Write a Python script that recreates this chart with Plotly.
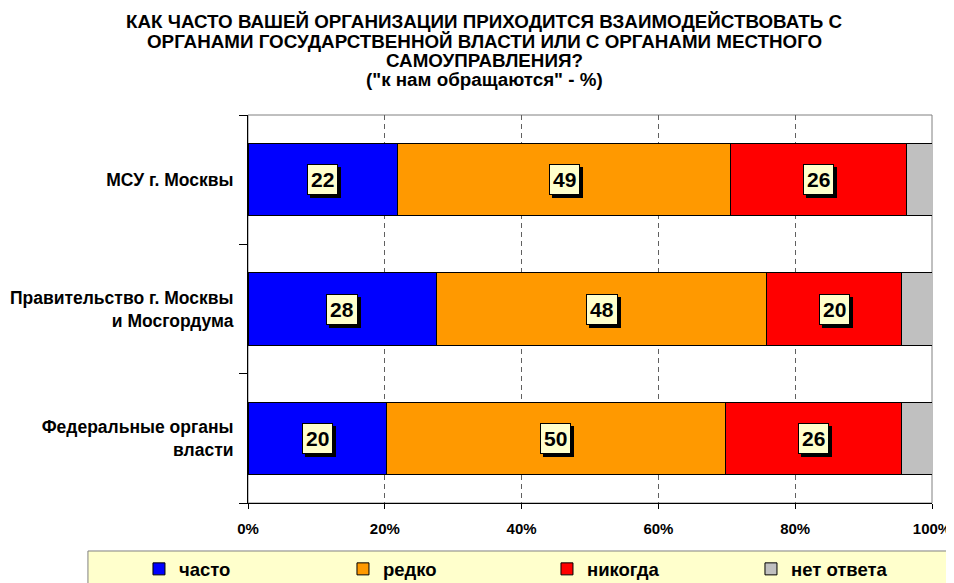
import plotly.graph_objects as go

categories = ["МСУ г. Москвы", "Правительство г. Москвы<br>и Мосгордума", "Федеральные органы<br>власти"]
series_names = ["часто", "редко", "никогда", "нет ответа"]
often = [21.9, 27.6, 20.2]
rarely = [48.7, 48.2, 49.6]
never = [25.6, 19.8, 25.8]
no_answer = [3.8, 4.4, 4.4]
x_ticks = [0, 20, 40, 60, 80, 100]
x_tick_labels = ["0%", "20%", "40%", "60%", "80%", "100%"]
title_lines = [
    "КАК ЧАСТО ВАШЕЙ ОРГАНИЗАЦИИ ПРИХОДИТСЯ ВЗАИМОДЕЙСТВОВАТЬ С",
    "ОРГАНАМИ ГОСУДАРСТВЕННОЙ ВЛАСТИ ИЛИ С ОРГАНАМИ МЕСТНОГО",
    "САМОУПРАВЛЕНИЯ?",
    "(\"к нам обращаются\" - %)",
]

colors = ["#0000FF", "#FF9900", "#FF0000", "#C0C0C0"]
FONT = "Liberation Sans, Arial, sans-serif"

# page body has an 8px default margin; figure is sized/positioned to compensate
W, H = 946, 575
L, R, T, B = 240, 22, 107, 80
plot_h = H - T - B

series = [often, rarely, never, no_answer]
fig = go.Figure()
for name, vals, col in zip(series_names, series, colors):
    fig.add_trace(go.Bar(
        y=categories, x=vals, name=f"<b>{name}</b>", orientation="h",
        marker=dict(color=col, line=dict(color="#000000", width=1)),
        width=0.56, hovertemplate=name + ": %{x}<extra></extra>",
    ))

annotations = []
# value labels (first three series) with drop shadow
for i, cat in enumerate(categories):
    start = 0.0
    for s_idx, vals in enumerate(series):
        v = vals[i]
        if s_idx < 3:
            cx = start + v / 2
            txt = f"<b>{round(v):d}</b>"
            annotations.append(dict(
                x=cx, y=cat, xref="x", yref="y", text=txt, showarrow=False,
                font=dict(family=FONT, size=21, color="#000000"),
                bgcolor="#000000", bordercolor="#000000", borderwidth=1, borderpad=3,
                xshift=3, yshift=-3,
            ))
            annotations.append(dict(
                x=cx, y=cat, xref="x", yref="y", text=txt, showarrow=False,
                font=dict(family=FONT, size=21, color="#000000"),
                bgcolor="#FFFFCC", bordercolor="#000000", borderwidth=1, borderpad=3,
            ))
        start += v

# title lines
title_px = [14, 33, 52, 71]
for line, ypx in zip(title_lines, title_px):
    annotations.append(dict(
        x=(476 - L) / (W - L - R), y=(H - B - ypx) / plot_h, xref="paper", yref="paper",
        xanchor="center", yanchor="middle", text=f"<b>{line}</b>", showarrow=False,
        font=dict(family=FONT, size=18.8, color="#000000"),
    ))

fig.update_layout(
    width=W, height=H,
    margin=dict(l=L, r=R, t=T, b=B, autoexpand=False),
    barmode="stack",
    paper_bgcolor="#FFFFFF", plot_bgcolor="#FFFFFF",
    font=dict(family=FONT, color="#000000"),
    xaxis=dict(
        range=[0, 100], tickvals=x_ticks, ticktext=[f"<b>{t}</b>" for t in x_tick_labels],
        showgrid=True, gridcolor="#606060", griddash="5px,4px", gridwidth=1,
        showline=True, linecolor="#000000", linewidth=1,
        ticks="outside", ticklen=5, tickcolor="#000000", ticklabelstandoff=7,
        tickfont=dict(family=FONT, size=15, color="#000000"),
        zeroline=False, fixedrange=True,
    ),
    yaxis=dict(
        autorange="reversed", type="category",
        tickvals=categories, ticktext=[f"<b>{c}</b>" for c in categories],
        showline=True, linecolor="#000000", linewidth=1,
        ticks="outside", ticklen=8, tickcolor="#000000", tickson="boundaries",
        ticklabelstandoff=10,
        tickfont=dict(family=FONT, size=17.5, color="#000000"),
        showgrid=False, fixedrange=True,
    ),
    legend=dict(
        orientation="h", x=-0.1594, xanchor="left", y=-0.122, yanchor="top",
        bgcolor="rgba(0,0,0,0)", borderwidth=0,
        entrywidth=159, entrywidthmode="pixels",
        font=dict(family=FONT, size=18.5, color="#000000"),
        traceorder="normal",
    ),
    annotations=annotations,
    shapes=[
        dict(type="rect", xref="paper", yref="paper", x0=0, x1=1, y0=0, y1=1,
             line=dict(color="#808080", width=1), layer="below"),
        dict(type="rect", xref="paper", yref="paper", x0=-0.234, x1=1.1, y0=-0.1237, y1=-0.3,
             line=dict(color="#808080", width=1), fillcolor="#FFFFCC", layer="below"),
    ],
    showlegend=True,
)

fig.write_html("out.html")
